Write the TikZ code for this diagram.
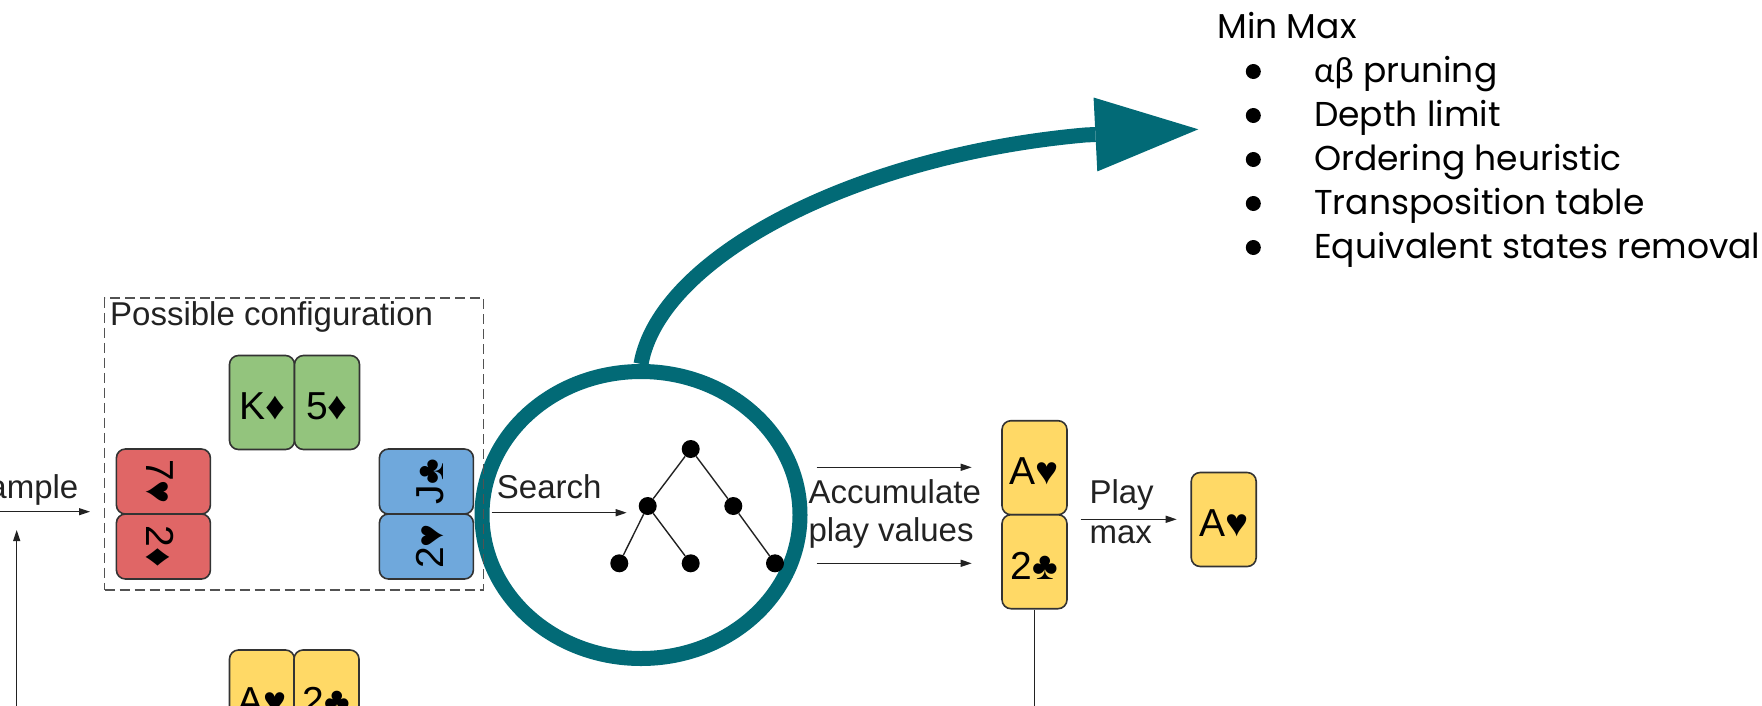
\documentclass[tikz,border=0pt]{standalone}
\usepackage{fontspec}
\setmainfont{Liberation Sans}
\newfontfamily\listfont{Poppins}
\newfontfamily\greekfont{Lato}
\usetikzlibrary{arrows.meta,shapes.geometric}

\definecolor{ringteal}{RGB}{2,106,118}
\definecolor{cardgreen}{HTML}{93C47D}
\definecolor{cardred}{HTML}{E06666}
\definecolor{cardblue}{HTML}{6FA8DC}
\definecolor{cardyellow}{HTML}{FFD966}
\definecolor{cardedge}{HTML}{333333}
\definecolor{ink}{HTML}{222222}

% card face text, set a little below the centre of the card
\newcommand\cardface[1]{\raisebox{-4pt}[\height][\depth]{#1}}

\begin{document}
\begin{tikzpicture}[x=1pt,y=-1pt,
  card/.style={draw=cardedge, line width=1.6pt, rounded corners=9pt,
    minimum width=65pt, minimum height=94pt, inner sep=0pt, text=black,
    font=\fontsize{39}{39}\selectfont},
  lbl/.style={inner sep=0pt, text=ink, font=\fontsize{33}{37}\selectfont, anchor=base west},
  conn/.style={draw=ink, line width=1.3pt, -{Triangle[length=11pt,width=7pt]}},
  tdot/.style={circle, fill=black, minimum size=18pt, inner sep=0pt},
  tedge/.style={draw=ink, line width=1.4pt},
  bul/.style={circle, fill=black, minimum size=15pt, inner sep=0pt},
  listitem/.style={inner sep=0pt, anchor=base west, text=black,
    font=\listfont\fontsize{34.5}{38}\selectfont},
  pt/.style={coordinate}
]
\useasboundingbox (0,0) rectangle (1762,705);
\clip (0,0) rectangle (1762,705);

% ---- highlight ring around the search tree and its call-out arrow ----
\node[draw=ringteal, line width=15pt, ellipse, minimum width=318pt,
      minimum height=287pt, inner sep=0pt] (focus) at (641,515) {};
\node[pt] (bend) at (1085,135) {};
\node[pt] (calltip) at (1198.3,129.3) {};
\draw[ringteal, line width=15pt,
      -{Triangle[length=103pt,width=74pt,line width=0pt]}]
  (focus.north) .. controls (660,256.5) and (856,155.4) .. (bend) -- (calltip);

% ---- min-max notes ----
\node[listitem] (mm) at (1217.3,38) {Min Max};
\foreach \i/\t in {0/{{\greekfont αβ} pruning},1/{Depth limit},2/{Ordering heuristic},
                   3/{Transposition table},4/{Equivalent states removal}}{
  \node[bul] (b\i) at (1253.3,{71.5+44*\i}) {};
  \node[listitem] (it\i) at (1314,{82+44*\i}) {\t};
}

% ---- sampling ----
\node[pt] (sampin) at (-5,511.7) {};
\node[pt] (sampout) at (90,511.7) {};
\draw[conn] (sampin) -- (sampout);
\node[lbl, anchor=base east] (samplbl) at (78.5,498) {Sample};
\node[pt] (loopin) at (16.7,715) {};
\node[pt] (looptip) at (16.7,530) {};
\draw[conn] (loopin) -- (looptip);

% ---- one possible configuration of the hidden hands ----
\node[draw=cardedge!85, dash pattern=on 10pt off 5pt, line width=1.3pt,
      minimum width=379pt, minimum height=292pt, inner sep=0pt, anchor=north west]
      (config) at (104,297.3) {};
\node[lbl] (conflbl) at (110,325.5) {Possible configuration};
\node[card, fill=cardgreen] (kd) at (262,402.5) {\cardface{K♦}};
\node[card, fill=cardgreen] (fd) at (327,402.5) {\cardface{5♦}};
\node[card, fill=cardred, rotate=-90] (sh) at (163.4,481.5) {\cardface{7♥}};
\node[card, fill=cardred, rotate=-90] (td) at (163.4,546.5) {\cardface{2♦}};
\node[card, fill=cardblue, rotate=90] (jc) at (426.4,481.5) {\cardface{J♣}};
\node[card, fill=cardblue, rotate=90] (th) at (426.4,546.5) {\cardface{2♥}};

% own hand
\node[card, fill=cardyellow] (ownA) at (262,697) {\cardface{A♥}};
\node[card, fill=cardyellow] (own2) at (326.5,697) {\cardface{2♣}};

% ---- search ----
\node[pt] (srchin) at (491.7,512.7) {};
\node[pt] (srchout) at (626.7,512.7) {};
\draw[conn] (srchin) -- (srchout);
\node[lbl] (srchlbl) at (496.7,498) {Search};

\node[tdot] (tR) at (690.7,449) {};
\node[tdot] (tL) at (647.7,506) {};
\node[tdot] (tM) at (733.3,506) {};
\node[tdot] (l1) at (619.3,563.3) {};
\node[tdot] (l2) at (690.7,563.3) {};
\node[tdot] (l3) at (775,563.3) {};
\draw[tedge] (tR) -- (tL);
\draw[tedge] (tR) -- (tM);
\draw[tedge] (tL) -- (l1);
\draw[tedge] (tL) -- (l2);
\draw[tedge] (tM) -- (l3);

% ---- accumulate values per playable card ----
\node[pt] (accA1) at (816.7,467.3) {};
\node[pt] (accA2) at (971.7,467.3) {};
\node[pt] (accB1) at (816.7,563.3) {};
\node[pt] (accB2) at (971.7,563.3) {};
\draw[conn] (accA1) -- (accA2);
\draw[conn] (accB1) -- (accB2);
\node[lbl] (acc1) at (808.3,503) {Accumulate};
\node[lbl] (acc2) at (808.3,541.7) {play values};

\node[card, fill=cardyellow] (colA) at (1034.5,467.7) {\cardface{A♥}};
\node[card, fill=cardyellow] (col2) at (1034.5,561.7) {\cardface{2♣}};
\node[pt] (colout) at (1034.5,715) {};
\draw[draw=ink, line width=1.3pt] (col2.south) -- (colout);

% ---- play the best card ----
\node[pt] (playin) at (1080.7,519.3) {};
\node[pt] (playout) at (1176.7,519.3) {};
\draw[conn] (playin) -- (playout);
\node[lbl] (play1) at (1089.3,503) {Play};
\node[lbl] (play2) at (1089.3,543) {max};
\node[card, fill=cardyellow] (best) at (1223.7,519.5) {\cardface{A♥}};
\end{tikzpicture}
\end{document}
